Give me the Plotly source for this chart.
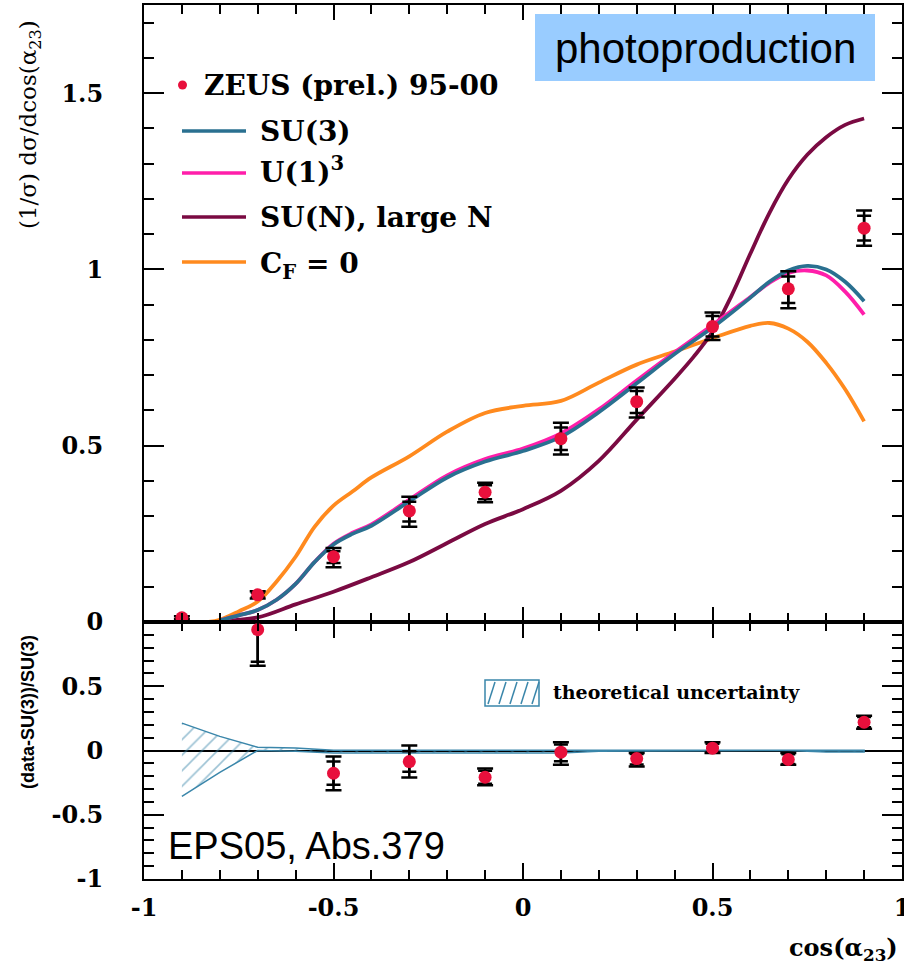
import plotly.graph_objects as go

# ---------------- data ----------------
x_data = [-0.9, -0.7, -0.5, -0.3, -0.1, 0.1, 0.3, 0.5, 0.7, 0.9]
y_data = [0.012, 0.077, 0.185, 0.315, 0.368, 0.52, 0.625, 0.838, 0.945, 1.117]
tot_up = [0.004, 0.010, 0.025, 0.040, 0.027, 0.045, 0.040, 0.040, 0.050, 0.050]
tot_dn = [0.004, 0.010, 0.030, 0.045, 0.028, 0.045, 0.045, 0.038, 0.055, 0.050]
stat_up = [0.003, 0.006, 0.016, 0.026, 0.020, 0.032, 0.030, 0.030, 0.035, 0.035]
stat_dn = [0.003, 0.006, 0.018, 0.030, 0.020, 0.032, 0.032, 0.028, 0.040, 0.035]

x_th = [-0.8, -0.75, -0.7, -0.65, -0.6, -0.55, -0.5, -0.45, -0.4, -0.3, -0.2, -0.1,
        0.0, 0.1, 0.2, 0.3, 0.4, 0.5, 0.6, 0.65, 0.7, 0.75, 0.8, 0.85, 0.9]
su3 = [0.005, 0.019, 0.034, 0.063, 0.108, 0.17, 0.22, 0.25, 0.273, 0.342, 0.41, 0.455,
       0.485, 0.525, 0.595, 0.677, 0.76, 0.835, 0.92, 0.965, 0.997, 1.01, 1.0, 0.965, 0.91]
u1cubed = [0.005, 0.019, 0.034, 0.063, 0.108, 0.17, 0.222, 0.253, 0.277, 0.347, 0.416, 0.462,
           0.492, 0.535, 0.603, 0.685, 0.765, 0.842, 0.922, 0.962, 0.99, 0.997, 0.983, 0.937, 0.872]

x_sun = [-0.8, -0.7, -0.6, -0.5, -0.4, -0.3, -0.2, -0.1, 0.0, 0.1, 0.2, 0.3, 0.4, 0.45,
         0.5, 0.55, 0.6, 0.65, 0.7, 0.75, 0.8, 0.85, 0.9]
sun_large = [0.003, 0.013, 0.05, 0.086, 0.127, 0.17, 0.224, 0.278, 0.32, 0.372, 0.457, 0.574,
             0.69, 0.752, 0.823, 0.925, 1.045, 1.16, 1.255, 1.325, 1.375, 1.41, 1.428]

x_cf = [-0.83, -0.8, -0.75, -0.7, -0.65, -0.6, -0.55, -0.5, -0.45, -0.4, -0.3, -0.2, -0.1,
        0.0, 0.1, 0.2, 0.3, 0.4, 0.5, 0.6, 0.65, 0.7, 0.75, 0.8, 0.85, 0.9]
cf0 = [0.0, 0.006, 0.03, 0.058, 0.115, 0.185, 0.27, 0.33, 0.37, 0.41, 0.47, 0.54, 0.593,
       0.613, 0.627, 0.679, 0.73, 0.767, 0.805, 0.84, 0.848, 0.832, 0.795, 0.735, 0.66, 0.569]

x_ratio = [-0.7, -0.5, -0.3, -0.1, 0.1, 0.3, 0.5, 0.7, 0.9]
ratio = [0.94, -0.177, -0.086, -0.208, -0.013, -0.063, 0.018, -0.07, 0.22]
r_tot_up = [0.40, 0.130, 0.125, 0.068, 0.078, 0.043, 0.047, 0.050, 0.050]
r_tot_dn = [0.28, 0.133, 0.124, 0.062, 0.097, 0.062, 0.038, 0.040, 0.050]
r_stat_up = [0.30, 0.091, 0.080, 0.050, 0.060, 0.035, 0.035, 0.040, 0.040]
r_stat_dn = [0.25, 0.090, 0.080, 0.050, 0.070, 0.045, 0.030, 0.035, 0.040]

x_band = [-0.9, -0.8, -0.7, -0.6, -0.5, -0.4, -0.3, -0.2, -0.1, 0.0, 0.1, 0.2, 0.3, 0.4,
          0.5, 0.6, 0.7, 0.8, 0.9]
band_up = [0.213, 0.11, 0.025, 0.02, 0.002, 0.002, 0.002, 0.002, 0.002, 0.002, 0.002, 0.0,
           0.0, 0.0, 0.0, 0.0, 0.0, 0.002, 0.002]
band_dn = [-0.357, -0.17, 0.0, -0.005, -0.02, -0.02, -0.02, -0.02, -0.02, -0.02,
           -0.02, -0.005, 0.0, 0.0, 0.0, 0.0, 0.0, -0.012, -0.012]

x_tickvals = [-1, -0.5, 0, 0.5, 1]
x_ticktext = ["-1", "-0.5", "0", "0.5", "1"]
y1_tickvals = [0, 0.5, 1, 1.5]
y1_ticktext = ["0", "0.5", "1", "1.5"]
y2_tickvals = [-1, -0.5, 0, 0.5]
y2_ticktext = ["-1", "-0.5", "0", "0.5"]

# ---------------- style ----------------
C_SU3 = "#2a7090"
C_U1 = "#ff1eaa"
C_SUN = "#7a0a42"
C_CF = "#ff8a1e"
C_PT = "#e8103c"
C_BAND = "#3a86aa"

W, H = 904, 966
L, R, T, B = 144, 902, 5, 879


def X(px):
    return (px - L) / (R - L)


def Y(py):
    return (B - py) / (B - T)


split = Y(622)
serif_b = dict(family="DejaVu Serif", size=24, color="black", weight="bold")

fig = go.Figure()

# top panel curves
fig.add_trace(go.Scatter(x=x_cf, y=cf0, mode="lines", line=dict(color=C_CF, width=3.8, shape="spline"),
                         xaxis="x", yaxis="y", showlegend=False))
fig.add_trace(go.Scatter(x=x_sun, y=sun_large, mode="lines", line=dict(color=C_SUN, width=3.8, shape="spline"),
                         xaxis="x", yaxis="y", showlegend=False))
fig.add_trace(go.Scatter(x=x_th, y=u1cubed, mode="lines", line=dict(color=C_U1, width=3.8, shape="spline"),
                         xaxis="x", yaxis="y", showlegend=False))
fig.add_trace(go.Scatter(x=x_th, y=su3, mode="lines", line=dict(color=C_SU3, width=3.8, shape="spline"),
                         xaxis="x", yaxis="y", showlegend=False))

# top data points
fig.add_trace(go.Scatter(x=x_data, y=y_data, mode="markers", marker=dict(size=1, color="black"),
                         error_y=dict(type="data", symmetric=False, array=tot_up, arrayminus=tot_dn,
                                      color="black", thickness=2.5, width=8),
                         xaxis="x", yaxis="y", showlegend=False))
fig.add_trace(go.Scatter(x=x_data, y=y_data, mode="markers", marker=dict(size=13, color=C_PT),
                         error_y=dict(type="data", symmetric=False, array=stat_up, arrayminus=stat_dn,
                                      color="black", thickness=2.5, width=7),
                         xaxis="x", yaxis="y", showlegend=False))

# bottom band
fig.add_trace(go.Scatter(x=x_band + x_band[::-1], y=band_up + band_dn[::-1], mode="lines", fill="toself",
                         fillcolor="rgba(0,0,0,0)",
                         fillpattern=dict(shape="/", fgcolor=C_BAND, bgcolor="rgba(0,0,0,0)", size=11,
                                          solidity=0.15),
                         line=dict(color=C_BAND, width=1.5),
                         xaxis="x2", yaxis="y2", showlegend=False))

# bottom ratio points
fig.add_trace(go.Scatter(x=x_ratio, y=ratio, mode="markers", marker=dict(size=1, color="black"),
                         error_y=dict(type="data", symmetric=False, array=r_tot_up, arrayminus=r_tot_dn,
                                      color="black", thickness=2.5, width=8),
                         xaxis="x2", yaxis="y2", showlegend=False))
fig.add_trace(go.Scatter(x=x_ratio, y=ratio, mode="markers", marker=dict(size=13, color=C_PT),
                         error_y=dict(type="data", symmetric=False, array=r_stat_up, arrayminus=r_stat_dn,
                                      color="black", thickness=2.5, width=7),
                         xaxis="x2", yaxis="y2", showlegend=False))

axis_common = dict(showline=True, linewidth=2, linecolor="black", mirror="ticks", showgrid=False,
                   ticks="inside", tickwidth=2, tickcolor="black", tickfont=serif_b,
                   automargin=False, ticklabeloverflow="allow")

fig.update_layout(
    width=W, height=H,
    margin=dict(l=L, r=W - R, t=T, b=H - B, pad=0, autoexpand=False),
    paper_bgcolor="white", plot_bgcolor="white",
    showlegend=False,
    xaxis=dict(domain=[0, 1], range=[-1, 1], anchor="y", showticklabels=False,
               tickvals=x_tickvals, ticklen=15, zeroline=False,
               minor=dict(dtick=0.1, tick0=0, ticks="inside", ticklen=9, tickwidth=2, tickcolor="black"),
               **axis_common),
    yaxis=dict(domain=[split, 1], range=[0, 1.75], anchor="x",
               tickvals=y1_tickvals, ticktext=y1_ticktext, ticklen=20, zeroline=False,
               ticklabelstandoff=34,
               minor=dict(dtick=0.1, tick0=0, ticks="inside", ticklen=10, tickwidth=2, tickcolor="black"),
               **axis_common),
    xaxis2=dict(domain=[0, 1], range=[-1, 1], anchor="y2", matches="x",
                tickvals=x_tickvals, ticktext=x_ticktext, ticklen=16, zeroline=False,
                ticklabelstandoff=6,
                minor=dict(dtick=0.1, tick0=0, ticks="inside", ticklen=9, tickwidth=2, tickcolor="black"),
                **axis_common),
    yaxis2=dict(domain=[0, split], range=[-1, 1], anchor="x2",
                tickvals=y2_tickvals, ticktext=y2_ticktext, ticklen=20,
                zeroline=True, zerolinecolor="black", zerolinewidth=1.5,
                ticklabelstandoff=34,
                minor=dict(dtick=0.1, tick0=0, ticks="inside", ticklen=10, tickwidth=2, tickcolor="black"),
                **axis_common),
)

shapes = []
annotations = []

# photoproduction box
shapes.append(dict(type="rect", xref="paper", yref="paper", x0=X(535), x1=X(875), y0=Y(81), y1=Y(14),
                   fillcolor="#99ccff", line=dict(width=0), layer="above"))
annotations.append(dict(xref="paper", yref="paper", x=X(705), y=Y(48), text="photoproduction",
                        showarrow=False, xanchor="center", yanchor="middle",
                        font=dict(family="Liberation Sans", size=42, color="black")))

# EPS label
annotations.append(dict(xref="paper", yref="paper", x=X(166), y=Y(846), text="EPS05, Abs.379",
                        showarrow=False, xanchor="left", yanchor="middle",
                        font=dict(family="Liberation Sans", size=38, color="black")))

# top legend
leg_font = dict(family="DejaVu Serif", size=28, color="black", weight="bold")
shapes.append(dict(type="circle", xref="paper", yref="paper", x0=X(178), x1=X(187), y0=Y(89.5), y1=Y(80.5),
                   fillcolor=C_PT, line=dict(width=0)))
annotations.append(dict(xref="paper", yref="paper", x=X(202), y=Y(86), text="ZEUS (prel.) 95-00",
                        showarrow=False, xanchor="left", yanchor="middle", font=leg_font))
legend_rows = [("SU(3)", C_SU3, 131, 131),
               ("U(1)<sup>3</sup>", C_U1, 173, 170),
               ("SU(N), large N", C_SUN, 217, 217),
               ("C<sub>F</sub> = 0", C_CF, 262, 265)]
for txt, col, ly, ty in legend_rows:
    shapes.append(dict(type="line", xref="paper", yref="paper", x0=X(182), x1=X(246), y0=Y(ly), y1=Y(ly),
                       line=dict(color=col, width=3.5)))
    annotations.append(dict(xref="paper", yref="paper", x=X(258), y=Y(ty), text=txt,
                            showarrow=False, xanchor="left", yanchor="middle", font=leg_font))

# bottom legend (hatched box)
bx0, bx1, by0, by1 = 485, 539, 680, 706
shapes.append(dict(type="rect", xref="paper", yref="paper", x0=X(bx0), x1=X(bx1), y0=Y(by1), y1=Y(by0),
                   line=dict(color=C_BAND, width=1.5), fillcolor="rgba(0,0,0,0)"))
for i in range(5):
    xa = bx0 + 3 + i * 11
    shapes.append(dict(type="line", xref="paper", yref="paper", x0=X(xa), x1=X(xa + 7),
                       y0=Y(by1 - 2), y1=Y(by0 + 2), line=dict(color=C_BAND, width=1.5)))
annotations.append(dict(xref="paper", yref="paper", x=X(551), y=Y(692), text="theoretical uncertainty",
                        showarrow=False, xanchor="left", yanchor="middle",
                        font=dict(family="DejaVu Serif", size=19, color="black", weight="bold")))

# axis titles
annotations.append(dict(xref="paper", yref="paper", x=X(30), y=Y(124),
                        text="(1/σ) dσ/dcos(α<sub>23</sub>)", textangle=-90, showarrow=False,
                        xanchor="center", yanchor="middle",
                        font=dict(family="DejaVu Serif", size=23, color="black")))
annotations.append(dict(xref="paper", yref="paper", x=X(28), y=Y(712),
                        text="(data-SU(3))/SU(3)", textangle=-90, showarrow=False,
                        xanchor="center", yanchor="middle",
                        font=dict(family="Liberation Sans", size=18, color="black", weight="bold")))
annotations.append(dict(xref="paper", yref="paper", x=X(900), y=Y(949),
                        text="cos(α<sub>23</sub>)", showarrow=False,
                        xanchor="right", yanchor="middle",
                        font=dict(family="DejaVu Serif", size=24, color="black", weight="bold")))

fig.update_layout(shapes=shapes, annotations=annotations)
fig.write_html("out.html", config={"displayModeBar": False},
               post_script="document.body.style.margin='0';document.body.style.overflow='hidden';")
